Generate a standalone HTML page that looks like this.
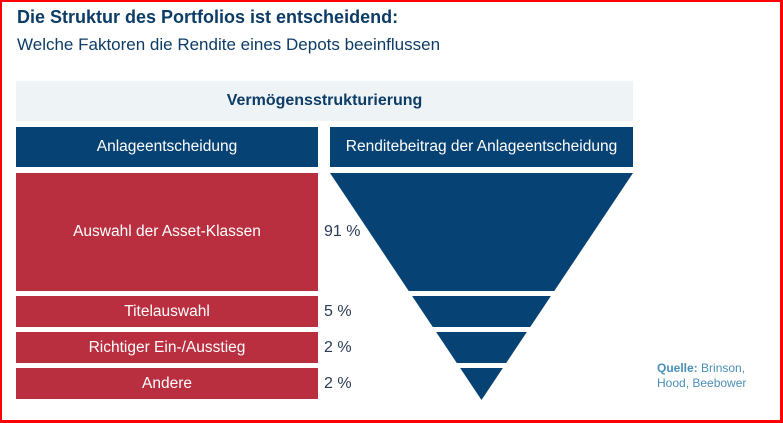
<!DOCTYPE html>
<html><head><meta charset="utf-8">
<style>
html,body{margin:0;padding:0;background:#fff;}
body{width:783px;height:423px;position:relative;overflow:hidden;font-family:"Liberation Sans",Arial,sans-serif;}
.frame{position:absolute;left:0;top:0;border:2px solid #f00;border-bottom-width:3px;border-right-width:3px;box-sizing:content-box;width:778px;height:418px;}
.t1{position:absolute;left:17px;top:7px;font-size:18px;font-weight:bold;color:#0d3c66;}
.t2{position:absolute;left:17px;top:35px;font-size:17px;color:#0d3c66;}
.band{position:absolute;left:16px;top:81px;width:617px;height:40px;background:#eef3f6;color:#0d3c66;font-weight:bold;font-size:16px;text-align:center;line-height:40px;}
.hdr{position:absolute;top:127px;height:40px;background:#064273;color:#fff;font-size:15.5px;text-align:center;line-height:40px;}
.row{position:absolute;left:16px;width:302px;background:#b92f3f;color:#fff;font-size:15.5px;display:flex;align-items:center;justify-content:center;}
.pct{position:absolute;left:324px;font-size:16px;color:#2a3b55;}
.src{position:absolute;left:657px;top:361px;font-size:12px;line-height:15px;color:#4a8fb8;}
</style></head><body>
<div class="frame"></div>
<div class="t1">Die Struktur des Portfolios ist entscheidend:</div>
<div class="t2">Welche Faktoren die Rendite eines Depots beeinflussen</div>
<div class="band">Vermögensstrukturierung</div>
<div class="hdr" style="left:16px;width:302px">Anlageentscheidung</div>
<div class="hdr" style="left:330px;width:303px">Renditebeitrag der Anlageentscheidung</div>
<svg id="funnel" width="783" height="423" style="position:absolute;left:0;top:0"></svg>
<div id="rows"></div>
<div class="src"><b>Quelle:</b> Brinson,<br>Hood, Beebower</div>
<script>
const categories = ["Auswahl der Asset-Klassen","Titelauswahl","Richtiger Ein-/Ausstieg","Andere"];
const values = [91,5,2,2];
const valueLabels = ["91 %","5 %","2 %","2 %"];

const top0 = 173, gap = 5;
function rowHeight(v){ return 31 + Math.max(0, v-5)*87/86; }
const heights = values.map(rowHeight);
const total = heights.reduce((a,b)=>a+b,0) + gap*(values.length-1);
const apexY = top0 + total + 1, cx = 481.5, halfTop = 151.5;
function halfW(y){ return halfTop*(apexY-y)/(apexY-top0); }
const rows = document.getElementById('rows');
const svg = document.getElementById('funnel');
let y = top0;
values.forEach((v,i)=>{
  const h = heights[i];
  const r = document.createElement('div');
  r.className='row';
  r.style.top=y+'px'; r.style.height=h+'px';
  r.textContent=categories[i];
  
  
  rows.appendChild(r);
  const p = document.createElement('div');
  p.className='pct';
  p.style.top=(y+h/2-9)+'px';
  p.textContent=valueLabels[i];
  
  
  rows.appendChild(p);
  const y2 = (i===values.length-1) ? apexY : y+h;
  const w1 = halfW(y), w2 = halfW(y2);
  const poly = document.createElementNS('http://www.w3.org/2000/svg','polygon');
  poly.setAttribute('points', `${cx-w1},${y} ${cx+w1},${y} ${cx+w2},${y2} ${cx-w2},${y2}`);
  poly.setAttribute('fill','#064273');
  
  
  svg.appendChild(poly);
  y += h + gap;
});
</script>
</body></html>
